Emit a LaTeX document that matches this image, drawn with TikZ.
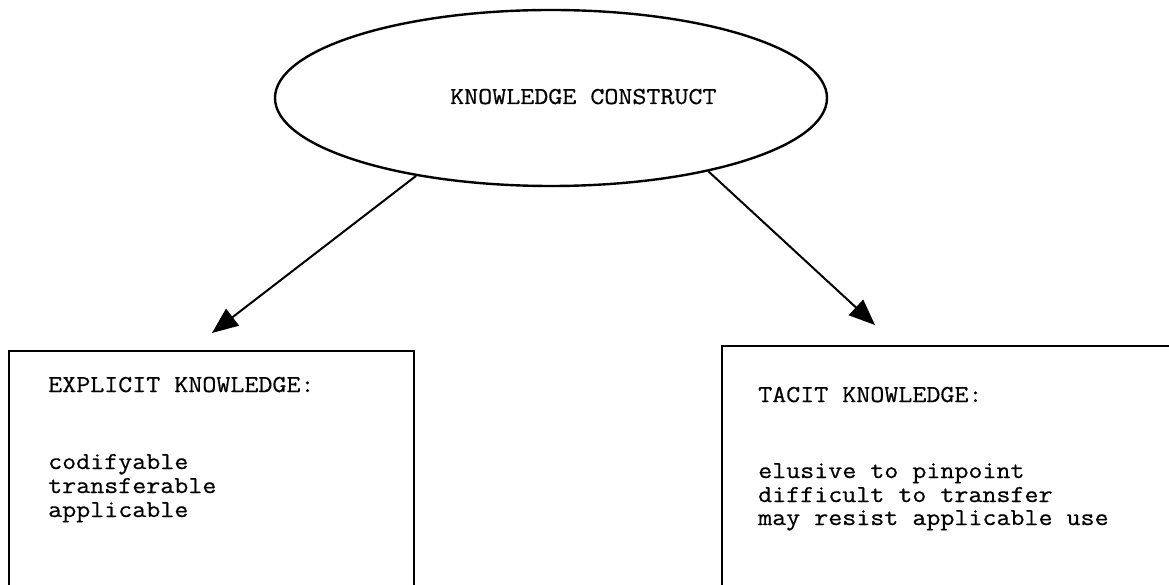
\documentclass[tikz,border=0pt]{standalone}
\usepackage{fontspec}
\setmonofont{Latin Modern Mono}[FakeStretch=1.12,FakeBold=0.6]
\usetikzlibrary{arrows.meta,shapes.geometric}
\begin{document}
\begin{tikzpicture}[x=1pt,y=1pt,
  lbl/.style={font=\fontsize{24.3}{24}\selectfont\ttfamily, inner sep=0pt, anchor=base west},
  frame/.style={draw, line width=2pt, rectangle, inner sep=0pt, anchor=north west},
  conn/.style={line width=2pt, -{Triangle[length=26pt,width=21pt]}}]
\useasboundingbox (0,0) rectangle (1169,584);
\clip (0,0) rectangle (1169,584);
% top construct
\node[ellipse, draw, line width=2.4pt, minimum width=552pt, minimum height=176pt, inner sep=0pt] (kc) at (551,486) {};
\node[lbl] (kct) at (450,480) {KNOWLEDGE CONSTRUCT};
% boxes (open at the bottom edge of the page)
\node[frame, minimum width=405pt, minimum height=300pt] (eb) at (8,234) {};
\node[frame, minimum width=480pt, minimum height=300pt] (tb) at (721,239) {};
% explicit texts
\node[lbl] (e0) at (48,192) {EXPLICIT KNOWLEDGE:};
\node[lbl] (e1) at (48,115) {codifyable};
\node[lbl] (e2) at (48,91) {transferable};
\node[lbl] (e3) at (48,67) {applicable};
% tacit texts
\node[lbl] (t0) at (758,182) {TACIT KNOWLEDGE:};
\node[lbl] (t1) at (758,106) {elusive to pinpoint};
\node[lbl] (t2) at (758,82) {difficult to transfer};
\node[lbl] (t3) at (758,59) {may resist applicable use};
% arrows
\coordinate (et) at (212,251);
\coordinate (tt) at (875,259);
\draw[conn] (kc.210) -- (et);
\draw[conn] (kc.335) -- (tt);
\end{tikzpicture}
\end{document}
